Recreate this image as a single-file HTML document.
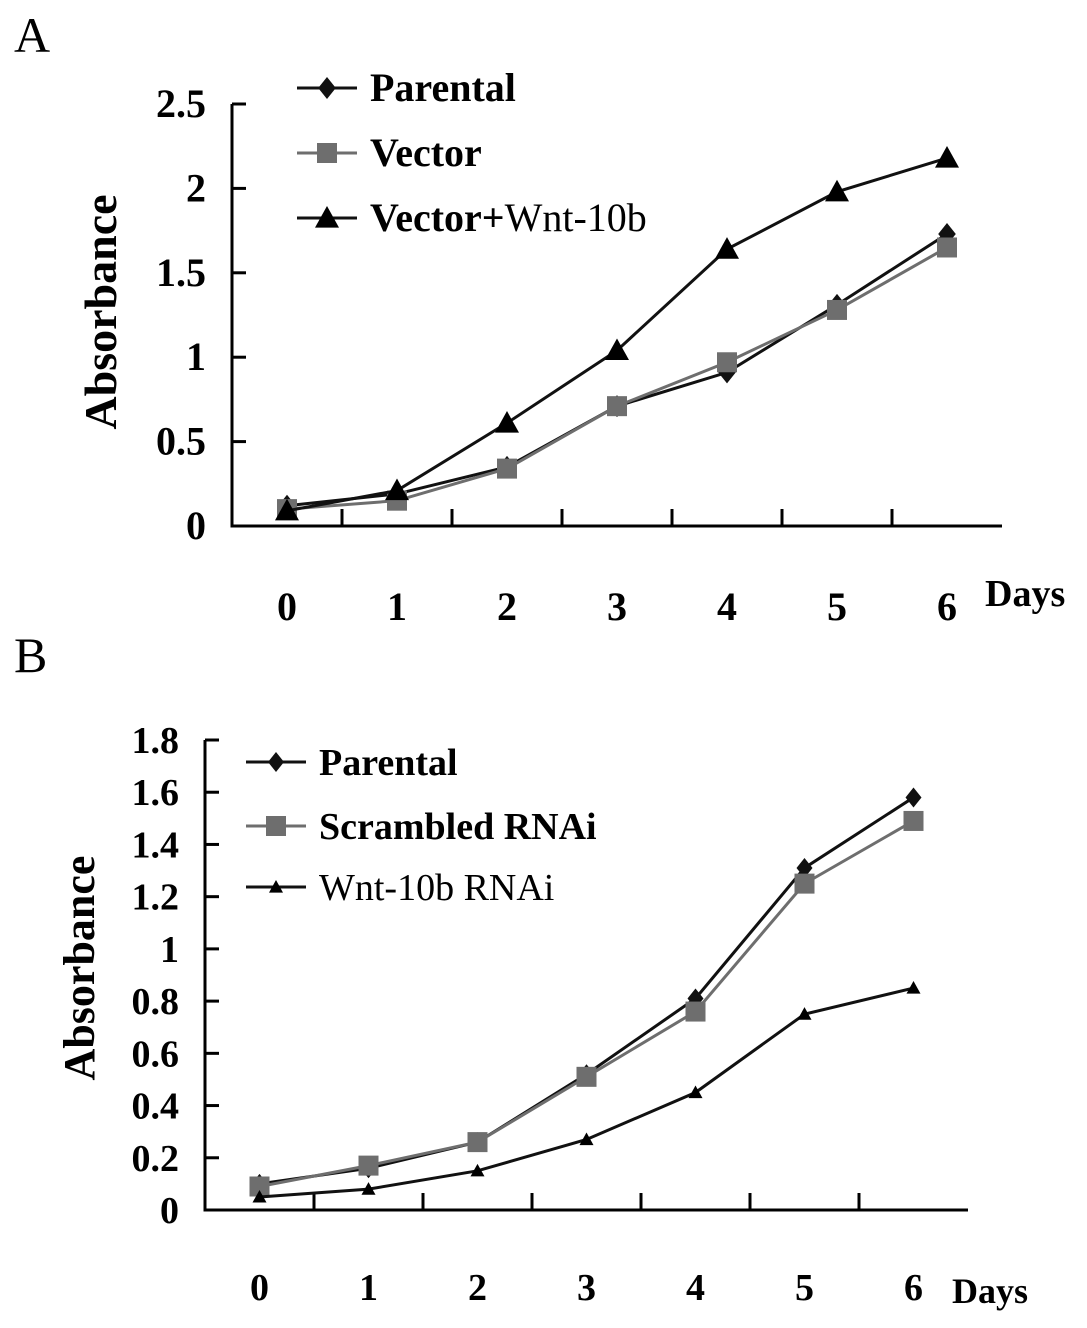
<!DOCTYPE html>
<html><head><meta charset="utf-8"><style>
body{margin:0;background:#fff}
svg{display:block}
text{font-family:"Liberation Serif",serif;fill:#000}
.b{font-weight:bold}
</style></head><body>
<svg id="s" width="1087" height="1328" viewBox="0 0 1087 1328"></svg>
<script>
const days=["0","1","2","3","4","5","6"];
const aParental=[0.12,0.19,0.35,0.71,0.91,1.31,1.73];
const aVector=[0.10,0.15,0.34,0.71,0.97,1.28,1.65];
const aWnt=[0.09,0.21,0.61,1.04,1.64,1.98,2.18];
const aTicks=["0","0.5","1","1.5","2","2.5"];
const bParental=[0.10,0.16,0.26,0.52,0.81,1.31,1.58];
const bScrambled=[0.09,0.17,0.26,0.51,0.76,1.25,1.49];
const bWnt=[0.05,0.08,0.15,0.27,0.45,0.75,0.85];
const bTicks=["0","0.2","0.4","0.6","0.8","1","1.2","1.4","1.6","1.8"];
const NS="http://www.w3.org/2000/svg";
const svg=document.getElementById('s');
function el(t,a,p){const e=document.createElementNS(NS,t);for(const k in a)e.setAttribute(k,a[k]);(p||svg).appendChild(e);return e;}
function txt(x,y,s,size,cls,anchor,p){const e=el('text',{x:x,y:y,'font-size':size,'text-anchor':anchor||'start'},p);if(cls)e.setAttribute('class',cls);e.textContent=s;return e;}
function marker(g,type,x,y,sz){
  if(type==='d'){return el('polygon',{points:`${x},${y-sz} ${x+sz*0.8},${y} ${x},${y+sz} ${x-sz*0.8},${y}`,fill:'#111'},g);}
  if(type==='s'){return el('rect',{x:x-sz,y:y-sz,width:2*sz,height:2*sz,fill:'#6e6e6e'},g);}
  return el('polygon',{points:`${x},${y-sz} ${x+sz},${y+sz*0.8} ${x-sz},${y+sz*0.8}`,fill:'#000'},g);
}
function panel(o){
  const g=el('g',{});
  
  
  const X=i=>o.x0+o.step*(i+0.5);
  const Y=v=>o.y0-(v/o.ymax)*(o.y0-o.ytop);
  const ax=el('path',{d:`M${o.x0},${o.ytop} L${o.x0},${o.y0} L${o.x0+o.step*7},${o.y0}`,stroke:'#000','stroke-width':3,fill:'none'},g);
  
  
  o.ticks.forEach((t,i)=>{
    const v=parseFloat(t),y=Y(v);
    el('line',{x1:o.x0,x2:o.x0+14,y1:y,y2:y,stroke:'#000','stroke-width':3},g);
    const l=txt(o.x0-26,y+13,t,o.fs,'b','end',g);
    
    
  });
  for(let i=1;i<7;i++){const x=o.x0+o.step*i;el('line',{x1:x,x2:x,y1:o.y0,y2:o.y0-17,stroke:'#000','stroke-width':3},g);}
  days.forEach((d,i)=>{const l=txt(X(i),o.xly,d,o.fs,'b','middle',g);
    
    });
  const dl=txt(o.daysX,o.daysY,'Days',o.fs-2,'b','start',g);
  
  
  const yl=txt(0,0,'Absorbance',o.tfs,'b','middle',g);
  yl.setAttribute('transform',`translate(${o.ylx},${o.yly}) rotate(-90)`);
  
  
  o.series.forEach(s=>{
    const sg=el('g',{},g);
    
    
    el('polyline',{points:s.data.map((v,i)=>X(i)+','+Y(v)).join(' '),fill:'none',stroke:s.col,'stroke-width':3},sg);
    s.data.forEach((v,i)=>marker(sg,s.m,X(i),Y(v),s.sz));
  });
  o.series.forEach((s,k)=>{
    const lg=el('g',{},g);
    
    
    const y=o.legY[k];
    el('line',{x1:o.legX,x2:o.legX+60,y1:y,y2:y,stroke:s.col,'stroke-width':3},lg);
    marker(lg,s.m,o.legX+30,y,s.sz);
    const t=txt(o.legX+73,y+13,'',o.lfs,'',null,lg);
    s.label.forEach(([str,bold])=>{const ts=el('tspan',{},t);if(bold)ts.setAttribute('font-weight','bold');ts.textContent=str;});
  });
}
txt(14,52,'A',50,'','start');
txt(14,672,'B',50,'','start');
panel({name:'panel-a',x0:232,step:110,y0:526,ytop:104,ymax:2.5,ticks:aTicks,fs:40,tfs:46,lfs:40,xly:620,daysX:985,daysY:606,ylx:116,yly:312,
  legX:297,legY:[88,153,218],
  series:[{id:'parental',data:aParental,col:'#111',m:'d',sz:11,label:[['Parental',1]]},
          {id:'vector',data:aVector,col:'#6e6e6e',m:'s',sz:10,label:[['Vector',1]]},
          {id:'vector-wnt10b',data:aWnt,col:'#111',m:'t',sz:12,label:[['Vector+',1],['Wnt-10b',0]]}]});
panel({name:'panel-b',x0:205,step:109,y0:1210,ytop:740,ymax:1.8,ticks:bTicks,fs:38,tfs:44,lfs:38,xly:1300,daysX:952,daysY:1303,ylx:94,yly:968,
  legX:246,legY:[762,826,887],
  series:[{id:'parental',data:bParental,col:'#111',m:'d',sz:10,label:[['Parental',1]]},
          {id:'scrambled-rnai',data:bScrambled,col:'#6e6e6e',m:'s',sz:10,label:[['Scrambled RNAi',1]]},
          {id:'wnt10b-rnai',data:bWnt,col:'#111',m:'t',sz:7,label:[['Wnt-10b RNAi',0]]}]});
</script>
</body></html>
